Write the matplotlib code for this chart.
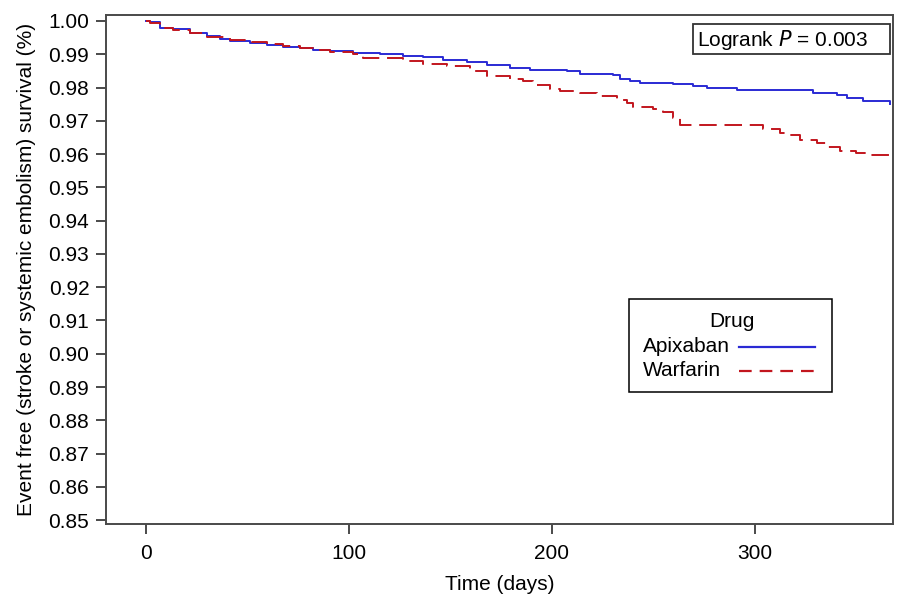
import numpy as np
import matplotlib.pyplot as plt
from matplotlib.patches import Rectangle
from matplotlib.lines import Line2D

plt.rcParams['font.family'] = ['Liberation Sans', 'DejaVu Sans']

# Kaplan-Meier step points
apix_days = [0, 2, 6.9, 13.3, 21.7, 30.0, 36.5, 41.4, 51.2, 59.6, 67.5, 75.9, 82.3, 90.6,
             102, 115.3, 126.6, 136.5, 146.3, 158.1, 168, 179.3, 189.2, 207.4, 213.8, 230,
             233.5, 238.4, 243.3, 259.6, 269.5, 276.4, 291.1, 328.6, 340.4, 345.3, 353.2, 366.5]
apix_surv = [1.0, 0.99955, 0.99795, 0.99744, 0.99645, 0.99543, 0.99473, 0.99392, 0.99344,
             0.99272, 0.99224, 0.99194, 0.99142, 0.99091, 0.99043, 0.99013, 0.98962, 0.98911,
             0.98841, 0.98760, 0.98691, 0.98592, 0.98519, 0.98489, 0.98420, 0.98369, 0.98270,
             0.98210, 0.98140, 0.98110, 0.98038, 0.97990, 0.97939, 0.97839, 0.97767, 0.97689,
             0.97608, 0.97508]

warf_days = [0, 2, 6.9, 13.3, 21.7, 30, 41.4, 51.2, 59.6, 67.5, 75.9, 82.3, 90.6, 102, 106.9,
             126.6, 136.5, 148.3, 159.6, 168, 179.3, 185.7, 190.6, 199, 203.9, 213.8, 222.2,
             232, 236.9, 239.9, 249.8, 254.7, 259.6, 263.1, 303.9, 312.3, 317.2, 322.2, 330.5,
             335.5, 341.9, 350.2, 356.7, 366.5]
warf_surv = [1.0, 0.9994, 0.99774, 0.99714, 0.99624, 0.99533, 0.99443, 0.99353, 0.99293,
             0.99248, 0.99194, 0.99142, 0.99073, 0.99022, 0.98893, 0.98790, 0.98721, 0.98640,
             0.98489, 0.98360, 0.98261, 0.98188, 0.98068, 0.97960, 0.97887, 0.97839, 0.97737,
             0.97638, 0.97538, 0.97406, 0.97367, 0.97268, 0.97087, 0.96864, 0.96765, 0.96636,
             0.96563, 0.96434, 0.96335, 0.96202, 0.96103, 0.96034, 0.95961, 0.95832]

xticks = [0, 100, 200, 300]
yticks = np.arange(0.85, 1.0001, 0.01)

blue = '#2a2ad4'
red = '#c2161e'

fig = plt.figure(figsize=(8.98, 5.99), dpi=100)
ax = fig.add_axes([0.118, 0.125, 0.876, 0.85])

ax.step(apix_days, apix_surv, where='post', color=blue, lw=1.4)
ax.step(warf_days, warf_surv, where='post', color=red, lw=1.4, dashes=(9, 4))

ax.set_xlim(-19.7, 368)
ax.set_ylim(0.8488, 1.0018)
ax.set_xticks(xticks)
ax.set_yticks(yticks)
ax.set_yticklabels(['%.2f' % v for v in yticks])
ax.tick_params(direction='out', length=7, width=1.4, color='#4a4a4a', labelsize=15)
ax.tick_params(axis='x', pad=7)
ax.tick_params(axis='y', pad=5)
for s in ax.spines.values():
    s.set_color('#4a4a4a')
    s.set_linewidth(1.4)

ax.set_xlabel('Time (days)', fontsize=15, labelpad=9)
ax.set_ylabel('Event free (stroke or systemic embolism) survival (%)', fontsize=15, labelpad=9)

# Logrank box
ax.add_patch(Rectangle((0.7463, 0.9228), 0.2499, 0.0595, transform=ax.transAxes,
                       fc='white', ec='#333333', lw=1.3, zorder=5))
ax.text(0.7513, 0.9509, 'Logrank $P$ = 0.003', transform=ax.transAxes, fontsize=15,
        va='center', ha='left', zorder=6)

# Legend box, labels left, line samples right
ax.add_patch(Rectangle((0.6646, 0.2593), 0.2579, 0.1827, transform=ax.transAxes,
                       fc='white', ec='black', lw=1.1, zorder=5))
ax.text(0.7954, 0.3974, 'Drug', transform=ax.transAxes, fontsize=15,
        ha='center', va='center', zorder=6)
ax.text(0.6823, 0.3483, 'Apixaban', transform=ax.transAxes, fontsize=15,
        ha='left', va='center', zorder=6)
ax.text(0.6823, 0.3012, 'Warfarin', transform=ax.transAxes, fontsize=15,
        ha='left', va='center', zorder=6)
ax.add_line(Line2D([0.8043, 0.9009], [0.3483, 0.3483], transform=ax.transAxes,
                   color=blue, lw=1.6, zorder=6))
ax.add_line(Line2D([0.8043, 0.9009], [0.3012, 0.3012], transform=ax.transAxes,
                   color=red, lw=1.6, dashes=(5.7, 3.6), zorder=6))

fig.savefig('out.png', dpi=100)
